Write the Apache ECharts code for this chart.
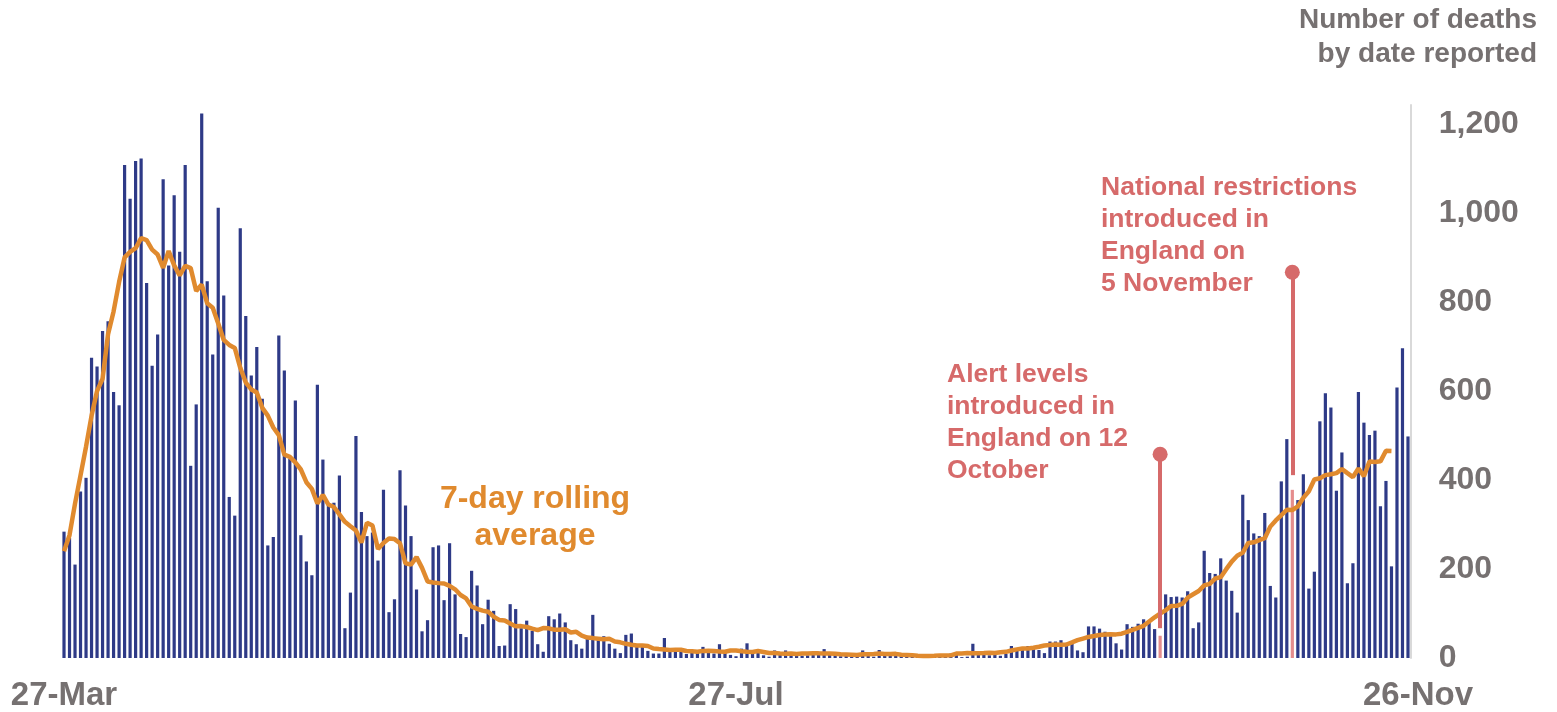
<!DOCTYPE html>
<html>
<head>
<meta charset="utf-8">
<script src="https://cdn.jsdelivr.net/npm/echarts@6/dist/echarts.min.js"></script>
<style>
html,body{margin:0;padding:0;background:#fff;overflow:hidden;}
#chart{width:1557px;height:712px;}
</style>
</head>
<body>
<div id="chart"></div>
<script>
// Daily deaths by date reported, 27-Mar .. 26-Nov
const deaths = [
284,270,210,374,405,675,655,735,757,598,
568,1108,1032,1117,1123,843,657,727,1076,882,
1040,913,1108,432,570,1224,847,682,1012,815,
362,320,966,769,635,699,583,253,272,725,
646,448,579,276,217,186,614,446,343,349,
410,67,147,499,328,274,282,219,378,103,
132,422,343,274,154,60,85,249,253,130,
258,143,54,47,196,163,76,131,106,27,
28,121,110,67,84,61,31,14,94,87,
100,80,40,31,21,43,97,40,49,32,
21,11,52,55,27,25,16,10,10,45,
16,18,18,9,12,12,25,13,10,31,
12,7,4,21,33,10,19,6,3,17,
7,17,9,10,5,6,8,14,20,12,
8,4,5,3,6,17,8,3,18,6,
5,12,10,8,6,4,3,2,3,6,
8,10,9,2,3,32,8,14,6,9,
5,9,27,20,21,27,27,18,11,37,
37,40,34,34,17,13,71,71,66,59,
49,33,19,76,70,77,87,81,65,50,
143,137,138,136,150,67,80,241,191,189,
224,174,151,102,367,310,280,274,326,162,
136,397,492,378,355,413,156,194,532,595,
563,376,462,168,213,598,529,501,511,341,
398,206,608,696,498
];

// 7-day rolling average (centred)
const rollingAvg = [
240,276,347,410.4,474.9,544.4,599.9,627.6,728.0,779.0,
845.0,900.4,912.7,921.1,943.9,939.3,917.9,906.9,876.9,914.7,
882.6,860.1,881.3,876.3,825.1,839.3,797.4,787.4,751.7,714.9,
703.7,697.0,652.3,619.1,603.6,596.7,562.3,544.7,518.0,500.9,
457.0,451.9,439.6,423.7,395.1,380.1,347.3,366.4,345.0,339.4,
323.0,306.1,296.3,286.7,259.4,303.9,297.6,245.1,258.6,268.4,
267.3,258.0,212.6,210.0,226.7,202.6,172.1,169.9,168.3,167.4,
162.0,154.4,141.6,133.9,115.7,110.4,106.6,103.9,93.1,85.6,
84.3,77.6,71.1,71.7,69.7,65.9,62.6,67.3,66.7,63.7,
63.7,64.7,57.4,58.9,50.3,45.9,44.7,43.3,41.9,43.1,
37.1,35.3,31.9,29.6,28.0,27.9,26.9,21.3,20.0,19.0,
18.0,18.3,18.6,15.7,15.3,14.1,16.0,16.4,15.7,14.6,
14.0,16.9,16.9,15.1,14.3,13.7,15.6,13.6,11.3,11.1,
9.9,9.7,10.1,8.9,9.9,10.3,10.7,10.4,10.3,10.1,
9.4,8.3,7.9,7.3,6.6,8.6,8.7,9.0,9.9,8.9,
8.9,9.3,7.3,6.9,6.4,5.1,4.6,4.6,5.1,5.9,
5.7,5.9,10.0,10.3,11.1,10.6,10.6,11.0,11.9,11.1,
12.9,13.9,16.9,19.4,21.3,21.6,23.0,25.4,28.1,29.1,
30.1,30.0,30.3,35.1,40.0,43.7,47.3,49.4,51.7,52.6,
53.3,53.1,54.7,58.7,63.3,67.9,72.3,81.9,91.4,100.1,
107.1,117.0,117.3,121.6,135.6,143.3,150.6,163.1,166.6,178.6,
181.7,199.7,216.7,229.7,236.9,258.6,260.1,265.0,269.3,295.3,
309.3,320.9,333.3,332.4,340.7,360.0,374.7,401.1,404.1,411.1,
412.9,415.6,425.0,415.6,406.7,426.0,408.7,441.6,440.6,442.0,
465.9,465.4
];

const xTickLabels = ['27-Mar', '27-Jul', '26-Nov'];
const yTicks = [0, 200, 400, 600, 800, 1000, 1200];

// Event markers: [date, top value of pin, bottom value of pin]
const events = [
  ['12-Oct', 458, 67],
  ['5-Nov', 867, 411]
];
const highlightDates = ['12-Oct', '5-Nov'];

// Build category labels (dates)
const monthSpec = [['Mar',31],['Apr',30],['May',31],['Jun',30],['Jul',31],['Aug',31],['Sep',30],['Oct',31],['Nov',30]];
const categories = [];
(function(){
  let m = 0, d = 27;
  while (categories.length < deaths.length) {
    categories.push(d + '-' + monthSpec[m][0]);
    d++;
    if (d > monthSpec[m][1]) { d = 1; m++; }
  }
})();
const tickIdx = xTickLabels.map(l => categories.indexOf(l));

const NAVY = '#2E3A87';
const ORANGE = '#E08A2E';
const RED = '#D66A6A';
const RED_BAR = '#E58D8D';
const GREY = '#767171';
const FONT = '"Liberation Sans", Arial, sans-serif';

const barData = deaths.map((v, i) => highlightDates.includes(categories[i])
  ? { value: v, itemStyle: { color: RED_BAR } } : v);

const chart = echarts.init(document.getElementById('chart'), null, { renderer: 'canvas' });
chart.setOption({
  animation: false,
  backgroundColor: '#fff',
  textStyle: { fontFamily: FONT },
  grid: { left: 61.25, right: 146.25, top: 105, bottom: 54, containLabel: false },
  xAxis: {
    type: 'category',
    data: categories,
    boundaryGap: true,
    axisLine: { show: false },
    axisTick: { show: false },
    splitLine: { show: false },
    axisLabel: {
      interval: (i) => tickIdx.includes(i),
      margin: 21,
      fontSize: 33,
      fontWeight: 'bold',
      fontFamily: FONT,
      color: GREY,
      formatter: (v, i) => i === tickIdx[2] ? '{r|' + v + '}' : v,
      rich: { r: { fontSize: 33, fontWeight: 'bold', fontFamily: FONT, color: GREY, padding: [0, 0, 0, 20] } }
    }
  },
  yAxis: {
    type: 'value',
    position: 'right',
    min: 0,
    max: 1243,
    interval: 200,
    axisLine: { show: true, lineStyle: { color: '#D9D9D9', width: 2 } },
    axisTick: { show: false },
    splitLine: { show: false },
    axisLabel: {
      margin: 28,
      fontSize: 32,
      fontWeight: 'bold',
      fontFamily: FONT,
      color: GREY,
      showMaxLabel: false,
      verticalAlign: 'middle',
      padding: [4, 0, 0, 0],
      formatter: (v) => yTicks.includes(v) ? v.toLocaleString('en-GB') : ''
    }
  },
  series: [
    {
      type: 'bar',
      data: barData,
      barWidth: 3.2,
      itemStyle: { color: NAVY },
      z: 2,
      markLine: {
        silent: true,
        symbol: ['circle', 'none'],
        symbolSize: 15,
        lineStyle: { color: RED, width: 4, type: 'solid' },
        label: { show: false },
        data: events.map(e => [
          { coord: [e[0], e[1]], symbol: 'circle', symbolSize: 15 },
          { coord: [e[0], e[2]], symbol: 'none' }
        ])
      }
    },
    {
      type: 'line',
      data: rollingAvg,
      symbol: 'none',
      smooth: false,
      lineStyle: { color: ORANGE, width: 4.5 },
      z: 3
    }
  ],
  graphic: [
    {
      type: 'text', right: 20, top: 3,
      style: { text: 'Number of deaths\nby date reported', fill: GREY, font: 'bold 28px ' + FONT, lineHeight: 34, textAlign: 'right' }
    },
    {
      type: 'text', left: 1101, top: 172,
      style: { text: 'National restrictions\nintroduced in\nEngland on\n5 November', fill: RED, font: 'bold 26.5px ' + FONT, lineHeight: 32 }
    },
    {
      type: 'text', left: 947, top: 359,
      style: { text: 'Alert levels\nintroduced in\nEngland on 12\nOctober', fill: RED, font: 'bold 26.5px ' + FONT, lineHeight: 32 }
    },
    {
      type: 'text', left: 437, top: 481,
      style: { text: '7-day rolling\naverage', fill: ORANGE, font: 'bold 32px ' + FONT, lineHeight: 37, textAlign: 'center', width: 196 }
    }
  ]
});
</script>
</body>
</html>
